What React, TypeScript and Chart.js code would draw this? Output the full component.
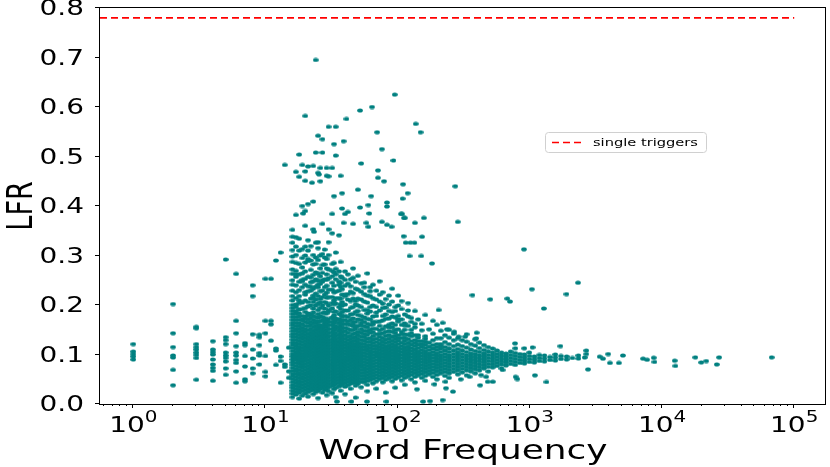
import { useEffect, useRef } from 'react';
import { Chart, registerables } from 'chart.js';

Chart.register(...registerables);

// ---------------- data ----------------
const xMin = 0.56;
const xMax = 1.74e5;
const yTicks = [0, 0.1, 0.2, 0.3, 0.4, 0.5, 0.6, 0.7, 0.8];
const xDecades = [0, 1, 2, 3, 4, 5];
const xTitle = 'Word Frequency';
const yTitle = 'LFR';
const legendLabel = 'single triggers';
const singleTriggerLfr = 0.78;
const singleTriggerRange = [xMin, 1e5];

// words with frequency 1..15 (one column per frequency)
const sparseFreqs = [1, 2, 3, 4, 5, 6, 7, 8, 9, 10, 11, 12, 13, 14, 15];
const sparseLfr = [
  [0.121, 0.106, 0.101, 0.096, 0.09],
  [0.202, 0.143, 0.115, 0.098, 0.094, 0.069, 0.038],
  [0.156, 0.153, 0.121, 0.115, 0.11, 0.104, 0.099, 0.093, 0.049],
  [0.127, 0.11, 0.105, 0.1, 0.09, 0.08, 0.073, 0.067, 0.047],
  [0.292, 0.135, 0.129, 0.121, 0.104, 0.098, 0.093, 0.086, 0.072, 0.059],
  [0.263, 0.168, 0.143, 0.117, 0.104, 0.098, 0.089, 0.083, 0.066, 0.043],
  [0.123, 0.119, 0.097, 0.076, 0.05, 0.046],
  [0.24, 0.218, 0.141, 0.11, 0.092, 0.072, 0.062],
  [0.14, 0.135, 0.119, 0.103, 0.098, 0.08],
  [0.253, 0.168, 0.143, 0.097, 0.065, 0.056],
  [0.253, 0.168, 0.161, 0.128],
  [0.29, 0.112, 0.108, 0.079],
  [0.306, 0.096, 0.087, 0.043],
  [0.483, 0.08, 0.075],
  [0.114, 0.066, 0.053],
];

// dense body: frequency columns
const denseFreqs = [
  16, 17, 18, 19, 20, 21, 22, 23, 24, 25, 26, 27, 28, 29, 30, 32, 33, 34, 36, 37, 38, 40, 42, 44, 46, 48, 50, 53, 56, 59,
  62, 65, 69, 73, 77, 81, 86, 91, 96, 101, 107, 113, 120, 127, 135, 143, 152, 162, 173, 185, 198, 212, 228, 245, 265, 285,
  308, 332, 358, 386, 416, 450, 485, 523, 565, 610, 660, 715, 775, 840, 910, 990, 1080, 1180, 1290, 1420, 1560, 1720, 1900,
  2100, 2330, 2600,
];
// crowded part of each column, LFR in thousandths
const denseCoreMilli = [
  [14, 21, 27, 33, 38, 44, 50, 56, 61, 67, 73, 79, 84, 90, 96, 101, 107, 113, 119, 124, 130, 136, 141, 147, 153, 159, 164, 170, 176, 182, 188, 194, 200],
  [19, 25, 31, 37, 43, 48, 54, 60, 66, 71, 77, 83, 89, 94, 100, 106, 112, 118, 123, 129, 135, 141, 147, 152, 158, 164, 170, 176, 183],
  [11, 23, 29, 35, 41, 46, 52, 58, 63, 69, 75, 81, 86, 92, 98, 104, 110, 115, 121, 127, 133, 139, 145, 151, 157, 163, 170],
  [17, 26, 32, 38, 44, 50, 55, 61, 67, 73, 78, 84, 90, 96, 101, 107, 113, 119, 125, 131, 136, 142, 148, 154, 161],
  [21, 28, 34, 40, 46, 52, 58, 63, 69, 75, 81, 87, 92, 98, 104, 110, 116, 121, 127, 133, 139, 145, 151, 158, 166, 173],
  [15, 24, 30, 36, 42, 48, 54, 60, 65, 71, 77, 83, 89, 95, 100, 106, 112, 118, 124, 130, 136, 142, 149, 157, 164],
  [27, 33, 39, 44, 50, 56, 62, 68, 74, 79, 85, 91, 97, 103, 109, 114, 120, 126, 132, 138, 144, 151, 159],
  [20, 29, 35, 41, 47, 53, 58, 64, 70, 76, 82, 87, 93, 99, 105, 111, 117, 122, 128, 134, 140, 147, 155, 163, 170],
  [24, 31, 37, 43, 49, 55, 61, 66, 72, 78, 84, 90, 95, 101, 107, 113, 119, 125, 131, 137, 143, 150, 157],
  [12, 27, 33, 39, 45, 51, 57, 63, 69, 75, 80, 86, 92, 98, 104, 110, 116, 121, 127, 133, 139, 146, 153, 160, 167],
  [30, 36, 42, 48, 54, 60, 66, 71, 77, 83, 89, 95, 101, 107, 112, 118, 124, 130, 136, 143, 150, 156],
  [23, 33, 39, 45, 51, 57, 62, 68, 74, 80, 86, 92, 98, 103, 109, 115, 121, 127, 133, 140, 147, 153],
  [28, 35, 41, 47, 53, 59, 65, 71, 76, 82, 88, 94, 100, 106, 112, 117, 123, 129, 136, 143, 150, 157, 163],
  [18, 31, 37, 43, 49, 55, 61, 67, 73, 78, 84, 90, 96, 102, 108, 114, 120, 126, 132, 139, 147],
  [26, 34, 40, 46, 52, 58, 64, 69, 75, 81, 87, 93, 99, 105, 111, 117, 123, 129, 136, 143, 151, 159],
  [22, 36, 42, 48, 54, 60, 66, 72, 78, 83, 89, 95, 101, 107, 113, 119, 125, 131, 138, 145, 152],
  [30, 39, 45, 51, 56, 62, 68, 74, 80, 86, 91, 97, 103, 109, 115, 121, 127, 134, 141, 149, 156, 164],
  [14, 33, 41, 47, 53, 59, 65, 71, 77, 83, 88, 94, 100, 106, 112, 118, 124, 130, 137, 144],
  [36, 43, 49, 55, 61, 67, 73, 79, 85, 90, 96, 102, 108, 114, 120, 126, 133, 140, 148, 155],
  [27, 38, 44, 50, 56, 62, 68, 74, 80, 86, 92, 98, 103, 109, 115, 121, 128, 135, 142, 150],
  [40, 46, 52, 58, 64, 70, 76, 81, 87, 93, 99, 105, 111, 117, 123, 130, 137, 145, 153, 161],
  [20, 35, 42, 48, 54, 60, 66, 72, 78, 84, 90, 95, 101, 107, 113, 119, 125, 132, 139, 147],
  [38, 45, 51, 57, 63, 69, 75, 81, 87, 92, 98, 104, 110, 116, 122, 129, 136, 144, 152],
  [31, 41, 47, 53, 59, 65, 71, 77, 83, 89, 94, 100, 106, 112, 118, 124, 131, 138],
  [43, 49, 55, 61, 67, 73, 79, 85, 90, 96, 102, 108, 114, 120, 127, 134, 142, 150, 158],
  [13, 37, 44, 50, 56, 62, 68, 74, 80, 86, 92, 97, 103, 109, 115, 121, 128, 135, 143],
  [41, 47, 53, 59, 65, 71, 77, 83, 89, 94, 100, 106, 112, 118, 124, 131, 139],
  [34, 45, 51, 57, 63, 69, 75, 80, 86, 92, 98, 104, 110, 116, 122, 129, 136, 144, 151],
  [44, 50, 56, 62, 68, 73, 79, 85, 91, 97, 103, 109, 115, 121, 128, 135, 141],
  [26, 39, 47, 53, 59, 65, 71, 77, 83, 89, 95, 101, 107, 112, 118, 125, 132, 140, 147],
  [48, 54, 60, 66, 72, 78, 84, 90, 96, 102, 107, 113, 119, 126, 133],
  [42, 51, 57, 63, 69, 75, 81, 87, 93, 99, 105, 111, 117, 123, 130, 137, 145],
  [31, 46, 53, 59, 65, 71, 77, 83, 89, 95, 100, 106, 112, 118, 125, 132],
  [50, 56, 62, 68, 74, 80, 86, 92, 98, 104, 110, 116, 122, 129, 136, 142],
  [44, 53, 59, 65, 71, 77, 83, 89, 95, 101, 107, 113, 119, 126, 133],
  [23, 49, 56, 62, 68, 74, 80, 86, 92, 98, 104, 110, 116, 123, 130],
  [52, 58, 64, 70, 76, 82, 88, 94, 100, 106, 112, 118, 125, 132, 139],
  [46, 55, 61, 67, 73, 79, 85, 91, 97, 103, 109, 115, 121, 128],
  [33, 51, 58, 64, 70, 76, 82, 88, 94, 100, 106, 112, 118, 125, 132, 138],
  [54, 60, 66, 72, 78, 84, 90, 96, 102, 108, 114, 121, 128, 133],
  [48, 57, 63, 69, 75, 81, 87, 93, 99, 105, 111, 117, 124],
  [39, 53, 60, 66, 72, 78, 84, 90, 96, 102, 108, 114, 121, 128, 134],
  [56, 62, 68, 74, 80, 86, 92, 98, 104, 110, 116, 123],
  [50, 59, 65, 71, 77, 83, 89, 95, 101, 107, 113, 120, 127],
  [44, 55, 62, 68, 74, 80, 86, 92, 98, 104, 110, 117, 123],
  [58, 64, 70, 76, 82, 88, 94, 100, 106, 113, 120, 127],
  [53, 61, 67, 73, 79, 85, 91, 97, 103, 109, 116, 121],
  [47, 57, 64, 70, 76, 82, 88, 94, 100, 106, 113, 120, 126],
  [60, 66, 72, 78, 84, 90, 96, 102, 109, 116],
  [55, 63, 69, 75, 81, 87, 93, 99, 105, 112, 119],
  [50, 59, 66, 72, 78, 84, 90, 96, 102, 109, 115],
  [62, 68, 74, 80, 86, 92, 98, 105, 112, 117],
  [57, 65, 71, 77, 83, 89, 95, 101, 108],
  [53, 62, 68, 74, 80, 86, 92, 98, 105, 112],
  [65, 71, 77, 83, 89, 95, 101, 108],
  [60, 68, 74, 80, 86, 92, 98, 104, 111],
  [64, 71, 77, 83, 89, 95, 101, 108],
  [58, 68, 74, 80, 86, 92, 98, 105],
  [66, 72, 78, 84, 90, 96, 102, 110],
  [62, 70, 76, 82, 88, 94, 100, 107],
  [68, 74, 80, 86, 92, 98, 105],
  [72, 78, 84, 90, 96, 102, 109],
  [66, 75, 81, 87, 93, 99, 106],
  [74, 80, 86, 92, 98, 104],
  [77, 83, 89, 95, 101, 108],
  [72, 80, 86, 92, 98, 104],
  [78, 84, 90, 96, 102],
  [81, 87, 93, 99, 106],
  [79, 85, 91, 97, 103],
  [83, 89, 95, 101],
  [82, 88, 94, 100],
  [85, 91, 97, 104],
  [84, 90, 96],
  [87, 93, 99],
  [86, 92, 98],
  [89, 95],
  [88, 94, 100],
  [91, 97],
  [90, 96],
  [93],
  [92, 98],
  [94],
];
// scattered upper part of each column, LFR in thousandths
const denseUpperMilli = [
  [209, 218, 229, 241, 250, 263, 272, 287, 298, 311, 326, 338, 352],
  [188, 196, 214, 240, 257, 262, 301, 318],
  [177, 204, 209, 230, 283, 334],
  [169, 171, 192, 248, 251, 276, 313],
  [186, 221, 226, 268, 300],
  [179, 183, 197, 238, 289, 293, 331],
  [166, 213, 246, 256, 271, 319],
  [178, 185, 206, 233, 282],
  [164, 168, 199, 223, 252, 296, 326],
  [174, 190, 236, 241, 263, 315],
  [159, 205, 212, 274],
  [158, 170, 184, 229, 247, 250, 303],
  [167, 193, 221, 282, 312],
  [155, 162, 204, 215, 239, 262, 293],
  [166, 187, 190, 254, 327],
  [160, 175, 216, 231, 245, 283],
  [171, 202, 209, 266],
  [152, 158, 187, 227, 273, 306],
  [163, 196, 241, 247],
  [157, 170, 181, 213, 258, 287],
  [168, 199, 206, 232],
  [154, 162, 189, 218, 221, 268],
  [161, 176, 243],
  [149, 170, 194, 208, 252],
  [165, 182, 224, 274],
  [152, 156, 201, 233],
  [146, 171, 188, 213, 259],
  [159, 164, 196, 227],
  [148, 175, 207, 245],
  [155, 183, 190, 264],
  [144, 150, 171, 218, 236],
  [152, 166, 199],
  [141, 178, 185, 229],
  [149, 158, 207, 248],
  [143, 169, 194],
  [138, 146, 181, 212],
  [147, 160, 201],
  [136, 155, 177, 233],
  [144, 150, 188],
  [139, 167, 171, 219],
  [133, 146, 192],
  [141, 159, 163],
  [131, 177, 204],
  [137, 143, 166],
  [129, 155, 188],
  [134, 139, 171],
  [127, 149, 162],
  [132, 137, 180],
  [124, 151],
  [129, 142, 168],
  [121, 133, 160],
  [121, 133, 148],
  [115, 125, 139],
  [121, 134, 150],
  [117, 129, 142],
  [120, 133],
  [117, 129],
  [114, 126, 141],
  [121],
  [118, 131],
  [113, 124],
  [119],
  [115],
  [112],
];
// more scattered words in the same columns, LFR in thousandths
const denseUpperMoreMilli = [
  [],
  [201, 226, 269, 285, 337],
  [183, 191, 218, 247, 262, 310],
  [178, 205, 236, 264, 295],
  [177, 194, 209, 241, 253, 286, 318],
  [171, 206, 228, 257, 310],
  [174, 181, 199, 229, 237, 290],
  [193, 214, 219, 248, 261, 301],
  [176, 211, 237, 266, 283],
  [182, 203, 218, 249, 291, 327],
  [167, 177, 194, 228, 243, 258, 300],
  [176, 199, 216, 265, 281],
  [174, 185, 206, 236, 252, 296],
  [169, 183, 225, 251, 274],
  [172, 199, 216, 231, 272, 301],
  [166, 193, 204, 258, 269],
  [179, 186, 226, 239, 285],
  [167, 173, 203, 214, 252, 262],
  [171, 182, 214, 229, 268],
  [164, 192, 201, 237, 245],
  [177, 186, 221, 255],
  [170, 178, 201, 239, 251],
  [167, 189, 211, 222, 262],
  [160, 181, 227, 238],
  [159, 173, 196, 213, 255],
  [166, 186, 208, 247],
  [158, 180, 199, 231],
  [170, 178, 211, 244],
  [157, 166, 190, 222, 236],
  [162, 172, 205, 219],
  [160, 187, 196, 228],
  [161, 177, 214, 241],
  [152, 166, 196, 211],
  [167, 189, 221],
  [152, 178, 203, 226],
  [157, 172, 195],
  [155, 173, 188, 219],
  [146, 163, 186, 207],
  [160, 175, 196],
  [151, 178, 199],
  [141, 160, 171, 208],
  [150, 181],
  [140, 158, 189],
  [150, 174],
  [139, 162],
];

// isolated words (frequency, LFR)
const outlierFreq = [
  24, 95, 64, 52, 20, 41, 137, 149, 30, 34, 70, 25, 27, 39, 33, 18, 24, 27, 34, 76, 79, 93, 53, 19, 21, 23, 26, 29, 32, 17,
  20, 25, 25.4, 29, 37, 71, 71, 18, 20, 22.5, 26, 30, 33, 38, 50, 63, 119, 110, 273, 109,
  285, 158, 182, 151, 135, 123, 125, 115, 112, 106, 83, 83,
  19, 21, 23, 17, 19.3, 20, 32, 40, 42, 38, 52, 61, 60, 108, 113,
  20, 23, 23.3, 27, 30, 32, 36, 39, 46, 58, 60, 76, 83, 90, 111, 134, 153,
  34.7, 44.7, 58.6, 82.3, 156, 176, 140, 190, 230, 300, 350,
];
const outlierLfr = [
  0.695, 0.625, 0.6, 0.593, 0.582, 0.576, 0.566, 0.549, 0.56, 0.56, 0.549, 0.542, 0.535, 0.531, 0.525, 0.504, 0.508, 0.508, 0.502, 0.515, 0.45, 0.492, 0.486, 0.483, 0.48, 0.481, 0.477, 0.477, 0.477, 0.469,
  0.47, 0.467, 0.464, 0.461, 0.461, 0.472, 0.457, 0.459, 0.451, 0.447, 0.45, 0.46, 0.42, 0.426, 0.433, 0.42, 0.426, 0.444, 0.44, 0.415,
  0.368, 0.376, 0.284, 0.299, 0.366, 0.299, 0.326, 0.326, 0.376, 0.384, 0.407, 0.399,
  0.4, 0.404, 0.409, 0.382, 0.385, 0.39, 0.384, 0.384, 0.388, 0.395, 0.397, 0.385, 0.402, 0.384, 0.376,
  0.36, 0.353, 0.348, 0.364, 0.353, 0.345, 0.341, 0.366, 0.364, 0.366, 0.358, 0.368, 0.362, 0.358, 0.339, 0.326, 0.338,
  0.005, 0.005, 0.005, 0.005, 0.005, 0.006, 0.03, 0.04, 0.045, 0.05, 0.055,
];

// high-frequency tail (frequency, LFR)
const tailFreq = [
  903, 1037, 2316, 1892, 1277, 368, 502, 676, 708, 1703, 2673, 3917, 5060, 4720, 4035, 2755, 1336, 804, 780, 1092,
  219, 262, 232, 421, 480, 525, 467, 428, 622, 773, 777, 908, 1048, 396, 393, 324, 289, 268, 236, 219, 204,
  3374, 3573, 2673, 7190, 7710, 8650, 8770, 12470, 12620, 17860, 19820, 21600, 25960, 27050, 67500,
];
const tailLfr = [
  0.3125, 0.232, 0.245, 0.222, 0.193, 0.22, 0.2115, 0.213, 0.207, 0.117, 0.108, 0.101, 0.098, 0.083, 0.083, 0.07, 0.0445, 0.0505, 0.055, 0.058,
  0.008, 0.025, 0.032, 0.038, 0.045, 0.045, 0.055, 0.0585, 0.0687, 0.1226, 0.1125, 0.1125, 0.1145, 0.144, 0.1327, 0.136, 0.136, 0.146, 0.151, 0.164, 0.19,
  0.0956, 0.0916, 0.101, 0.0916, 0.0895, 0.0935, 0.085, 0.0875, 0.077, 0.0943, 0.084, 0.0868, 0.08, 0.0943, 0.0943,
];

// ---------------- styling ----------------
const TEAL = '#008080';
const SX = 1.33; // horizontal text stretch seen in the reference
const FONT = '"DejaVu Sans", sans-serif';

function buildPoints() {
  const pts: { x: number; y: number }[] = [];
  sparseFreqs.forEach((f, i) => sparseLfr[i].forEach((v) => pts.push({ x: f, y: v })));
  denseFreqs.forEach((f, i) => {
    denseCoreMilli[i].forEach((v) => pts.push({ x: f, y: v / 1000 }));
    (denseUpperMilli[i] || []).forEach((v) => pts.push({ x: f, y: v / 1000 }));
    (denseUpperMoreMilli[i] || []).forEach((v) => pts.push({ x: f, y: v / 1000 }));
  });
  outlierFreq.forEach((f, i) => pts.push({ x: f, y: outlierLfr[i] }));
  tailFreq.forEach((f, i) => pts.push({ x: f, y: tailLfr[i] }));
  return pts;
}

const decorPlugin = {
  id: 'decor',
  afterDraw(chart: any) {
    const { ctx, chartArea: a, scales } = chart;
    const xs = scales.x;
    const ys = scales.y;
    ctx.save();
    ctx.fillStyle = '#000';
    ctx.strokeStyle = '#000';
    ctx.lineWidth = 1;
    // frame
    ctx.strokeRect(a.left - 0.5, a.top - 0.5, a.right - a.left, a.bottom - a.top + 1);
    // y ticks + labels
    ctx.font = `21px ${FONT}`;
    ctx.textAlign = 'right';
    ctx.textBaseline = 'middle';
    yTicks.forEach((v) => {
      const py = Math.round(ys.getPixelForValue(v)) - 0.5;
      ctx.beginPath();
      ctx.moveTo(a.left - 5, py);
      ctx.lineTo(a.left, py);
      ctx.stroke();
      ctx.save();
      ctx.translate(84, py + 2);
      ctx.scale(SX, 1);
      ctx.fillText(v.toFixed(1), 0, 0);
      ctx.restore();
    });
    // x ticks
    for (let d = -1; d <= 5; d++) {
      for (let m = 1; m <= 9; m++) {
        const v = m * Math.pow(10, d);
        if (v < xs.min || v > xs.max) continue;
        const px = Math.round(xs.getPixelForValue(v)) - 0.5;
        ctx.beginPath();
        ctx.moveTo(px, a.bottom);
        ctx.lineTo(px, a.bottom + (m === 1 ? 4 : 2));
        ctx.stroke();
      }
    }
    // x labels 10^d
    xDecades.forEach((d) => {
      const px = xs.getPixelForValue(Math.pow(10, d));
      const exp = String(d);
      ctx.font = `21px ${FONT}`;
      const w1 = ctx.measureText('10').width;
      ctx.font = `15px ${FONT}`;
      const w2 = ctx.measureText(exp).width;
      const total = (w1 + w2) * SX;
      const left = px - total / 2;
      ctx.textAlign = 'left';
      ctx.textBaseline = 'alphabetic';
      ctx.save();
      ctx.translate(left, 432);
      ctx.scale(SX, 1);
      ctx.font = `21px ${FONT}`;
      ctx.fillText('10', 0, 0);
      ctx.font = `15px ${FONT}`;
      ctx.fillText(exp, w1, -10);
      ctx.restore();
    });
    // axis titles
    ctx.font = `27px ${FONT}`;
    ctx.textAlign = 'center';
    ctx.textBaseline = 'alphabetic';
    ctx.save();
    ctx.translate((a.left + a.right) / 2, 459);
    ctx.scale(SX, 1);
    ctx.fillText(xTitle, 0, 0);
    ctx.restore();
    ctx.save();
    ctx.translate(32, (a.top + a.bottom) / 2);
    ctx.scale(SX, 1);
    ctx.rotate(-Math.PI / 2);
    ctx.fillText(yTitle, 0, 0);
    ctx.restore();
    // legend
    ctx.beginPath();
    ctx.roundRect(545.5, 132.5, 161, 20, 3);
    ctx.fillStyle = 'rgba(255,255,255,0.8)';
    ctx.fill();
    ctx.strokeStyle = '#d0d0d0';
    ctx.stroke();
    ctx.beginPath();
    ctx.setLineDash([7, 4]);
    ctx.strokeStyle = '#ff0000';
    ctx.lineWidth = 1.6;
    ctx.moveTo(552, 142.5);
    ctx.lineTo(582, 142.5);
    ctx.stroke();
    ctx.setLineDash([]);
    ctx.fillStyle = '#000';
    ctx.font = `11px ${FONT}`;
    ctx.textAlign = 'left';
    ctx.textBaseline = 'middle';
    ctx.save();
    ctx.translate(593, 143);
    ctx.scale(SX, 1);
    ctx.fillText(legendLabel, 0, 0);
    ctx.restore();
    ctx.restore();
  },
};

export default function App() {
  const ref = useRef<HTMLCanvasElement>(null);
  useEffect(() => {
    const canvas = ref.current!;
    const dot = document.createElement('canvas');
    dot.width = 6;
    dot.height = 5;
    const dctx = dot.getContext('2d')!;
    dctx.fillStyle = TEAL;
    dctx.beginPath();
    dctx.ellipse(3, 2.5, 2.8, 2.1, 0, 0, Math.PI * 2);
    dctx.fill();

    const chart = new Chart(canvas, {
      type: 'scatter',
      data: {
        datasets: [
          {
            type: 'scatter',
            data: buildPoints(),
            pointStyle: dot as any,
            pointRadius: 2.5,
            backgroundColor: TEAL,
            borderWidth: 0,
          },
          {
            type: 'line',
            data: [
              { x: singleTriggerRange[0], y: singleTriggerLfr },
              { x: singleTriggerRange[1], y: singleTriggerLfr },
            ],
            borderColor: '#ff0000',
            borderWidth: 1.6,
            borderDash: [7, 4],
            pointRadius: 0,
            fill: false,
          } as any,
        ],
      },
      options: {
        responsive: false,
        animation: false,
        devicePixelRatio: 1,
        layout: { padding: { top: 8, right: 1, left: 0, bottom: 0 } },
        plugins: { legend: { display: false }, tooltip: { enabled: false } },
        scales: {
          x: {
            type: 'logarithmic',
            min: xMin,
            max: xMax,
            ticks: { display: false },
            grid: { display: false },
            border: { display: false },
            afterFit: (s: any) => {
              s.height = 63;
            },
          },
          y: {
            type: 'linear',
            min: 0,
            max: 0.8,
            ticks: { display: false },
            grid: { display: false },
            border: { display: false },
            afterFit: (s: any) => {
              s.width = 100;
            },
          },
        },
      },
      plugins: [decorPlugin],
    });
    return () => chart.destroy();
  }, []);
  return (
    <div style={{ position: 'absolute', left: 0, top: 0, width: 830, height: 467 }}>
      <canvas ref={ref} width={830} height={467} style={{ display: 'block' }} />
    </div>
  );
}
